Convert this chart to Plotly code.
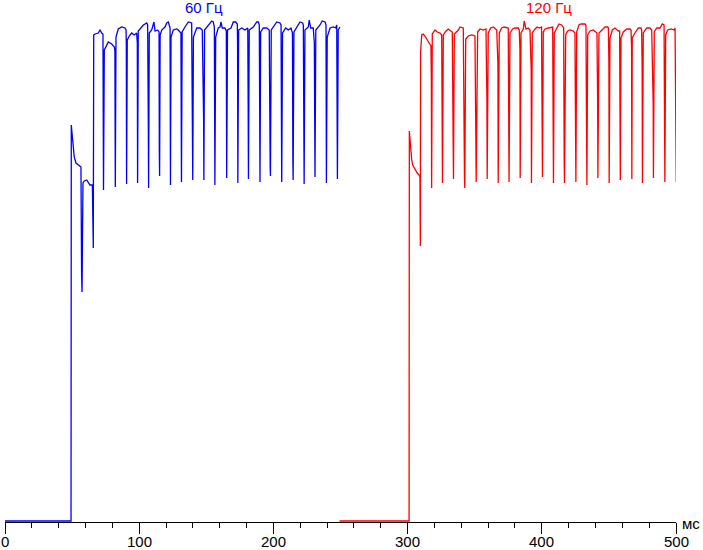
import plotly.graph_objects as go

# ---- data (time in ms, brightness in arbitrary units) ----
blue_t = [0, 49.2, 49.4, 50.1, 50.9, 51.6, 52.9, 54.6, 56.6, 57.1, 57.4, 58.1, 59.1, 60.9, 62.1, 63.3, 65.1,
          65.5, 65.8, 66.1, 67.1, 69.5, 70.8, 72.1, 73.0,
          73.2, 73.4, 74.0, 75.8, 77.0, 79.5, 81.5, 81.9,
          82.2, 82.7, 84.4, 87.0, 89.4, 90.2,
          90.4, 90.6, 91.1, 92.6, 94.4, 96.3, 98.1,
          98.6, 98.8, 99.3, 101.1, 103.1, 105.6, 106.3,
          106.8, 107.0, 107.5, 109.3, 111.0, 111.8, 113.8, 114.8,
          115.0, 115.2, 115.6, 116.8, 119.2, 120.5, 121.7, 123.0,
          123.3, 123.7, 125.4, 127.9, 129.1, 131.1,
          131.5, 132.0, 134.1, 136.6, 139.1,
          139.7, 139.9, 140.4, 142.9, 145.3, 147.0,
          148.0, 148.2, 148.7, 151.5, 154.0, 155.2, 156.0,
          156.4, 157.0, 158.9, 160.2, 160.9, 161.9, 163.9, 164.9,
          165.2, 165.8, 168.4, 170.1, 171.9, 173.1,
          173.3, 173.5, 174.1, 176.4, 178.8, 180.9,
          181.2, 181.4, 182.0, 185.0, 187.6, 188.8, 189.5,
          189.8, 190.0, 190.5, 192.5, 195.0, 196.9,
          197.6, 197.8, 198.4, 200.7, 202.5, 204.9, 205.7,
          206.2, 206.8, 209.2, 211.1, 213.1, 214.2,
          214.5, 214.7, 215.3, 217.3, 219.8, 221.8, 222.3,
          222.7, 222.9, 223.5, 226.0, 226.7, 227.8, 229.7, 230.5,
          231.0, 231.6, 234.7, 236.4, 238.5, 239.2,
          239.5, 240.1, 242.2, 244.6, 246.4, 247.2,
          247.7, 248.3, 249.6]
blue_v = [0, 0, 396, 385, 374, 364, 358, 356, 354, 244, 229, 338, 340, 341, 338, 336, 336,
          279, 273, 486, 487, 488, 491, 488, 487,
          408, 331, 471, 477, 479, 477, 474, 470,
          334, 484, 492, 494, 493, 491,
          476, 337, 481, 485, 488, 486, 488,
          478, 338, 490, 493, 496, 498, 496,
          396, 333, 488, 491, 499, 490, 491, 489,
          369, 345, 486, 491, 494, 498, 499, 493,
          336, 484, 491, 492, 491, 488,
          339, 489, 494, 499, 498,
          369, 341, 484, 493, 493, 491,
          403, 341, 491, 496, 500, 499, 494,
          336, 484, 493, 494, 499, 493, 493, 490,
          343, 491, 493, 499, 499, 497,
          478, 338, 491, 493, 491, 493,
          418, 342, 491, 494, 499, 499, 496,
          374, 339, 489, 493, 493, 491,
          354, 345, 491, 496, 499, 498, 496,
          339, 488, 493, 491, 493, 488,
          361, 341, 489, 494, 499, 498, 496,
          393, 337, 491, 494, 501, 493, 493, 478,
          344, 491, 496, 500, 499, 496,
          338, 484, 493, 494, 493, 496,
          342, 491, 494]

red_t = [249.3, 301.1, 301.3, 301.8, 302.3, 303.0, 303.8, 305.4, 307.2, 308.6, 309.2,
         309.5, 309.7, 310.5, 311.7, 312.9, 314.2, 315.4, 316.7, 317.4,
         317.7, 317.9, 318.4, 320.4, 322.1, 324.1, 325.4,
         325.8, 326.0, 326.6, 328.6, 330.3, 331.6, 333.3,
         334.0, 334.2, 334.8, 336.6, 337.8, 339.0, 341.5,
         342.4, 342.6, 343.3, 345.2, 347.8, 350.2,
         350.9, 351.1, 352.2, 354.0, 356.4, 358.4,
         359.1, 359.3, 360.1, 361.9, 363.9, 365.1, 366.4,
         367.3, 367.5, 368.3, 370.1, 371.8, 373.8, 375.0,
         375.6, 376.3, 378.3, 380.0, 382.5, 383.2,
         383.7, 383.9, 384.5, 386.2, 386.9, 388.2, 389.9, 391.2,
         392.1, 392.3, 392.9, 394.9, 396.6, 398.1, 399.8,
         400.3, 400.5, 401.1, 402.4, 404.9, 406.9, 408.1,
         408.5, 408.7, 409.3, 411.1, 412.8, 414.8, 416.3,
         416.7, 416.9, 417.8, 419.3, 421.0, 423.5, 424.7,
         425.2, 425.4, 426.0, 427.7, 429.2, 432.2, 432.9,
         433.4, 433.6, 434.2, 435.9, 438.4, 440.4, 441.1,
         441.6, 441.8, 442.6, 444.6, 447.1, 449.1, 449.6,
         450.0, 450.2, 450.8, 452.5, 454.5, 457.0, 458.0,
         458.5, 459.0, 460.7, 463.3, 465.7, 466.5,
         466.9, 467.1, 467.4, 469.4, 471.9, 473.9, 474.4,
         474.8, 475.0, 475.6, 478.2, 480.6, 481.9,
         483.0, 483.2, 483.8, 485.6, 488.1, 489.8, 491.1,
         491.5, 491.7, 492.3, 493.8, 496.3, 498.7, 499.3,
         499.8, 500.2]
red_v = [0, 0, 390, 378, 370, 362, 356, 352, 348, 346, 344,
         275, 469, 486, 487, 485, 482, 479, 477, 475,
         441, 333, 487, 491, 489, 488, 486,
         406, 338, 486, 490, 492, 491, 489,
         371, 342, 487, 489, 491, 494, 493,
         343, 333, 482, 485, 486, 485,
         376, 339, 489, 492, 491, 492,
         421, 342, 488, 493, 494, 492, 491,
         458, 338, 488, 493, 494, 493, 493,
         339, 488, 492, 493, 493, 491,
         473, 343, 488, 492, 500, 492, 493, 491,
         451, 338, 488, 492, 494, 493, 494,
         418, 344, 489, 492, 493, 494, 494,
         389, 338, 488, 493, 497, 496, 493,
         359, 338, 486, 490, 491, 490, 488,
         356, 339, 489, 496, 497, 497, 496,
         384, 336, 486, 490, 491, 489, 488,
         423, 343, 488, 491, 494, 494, 493,
         459, 338, 483, 491, 493, 490, 490,
         341, 483, 489, 492, 492, 491,
         473, 342, 483, 488, 493, 493, 491,
         449, 338, 488, 493, 493, 491,
         418, 343, 489, 493, 493, 497, 496,
         376, 339, 486, 491, 492, 491, 493,
         349, 339]

x_ticks = [0, 100, 200, 300, 400, 500]
x_tick_labels = ["0", "100", "200", "300", "400", "500"]
label_60 = "60 Гц"
label_120 = "120 Гц"
unit_label = "мс"

FONT = "Liberation Sans, Arial, sans-serif"

fig = go.Figure()
fig.add_trace(go.Scatter(x=blue_t, y=blue_v, mode="lines",
                         line=dict(color="#0000ff", width=1.3), hoverinfo="skip"))
fig.add_trace(go.Scatter(x=red_t, y=red_v, mode="lines",
                         line=dict(color="#ff0000", width=1.3), hoverinfo="skip"))

annotations = [
    dict(x=148.3, y=1.0049, xref="x", yref="paper", text=label_60, showarrow=False,
         xanchor="center", yanchor="middle", font=dict(family=FONT, size=15, color="#0000ff")),
    dict(x=405.4, y=1.0049, xref="x", yref="paper", text=label_120, showarrow=False,
         xanchor="center", yanchor="middle", font=dict(family=FONT, size=15, color="#ff0000")),
    dict(x=1.022, y=-0.002, xref="paper", yref="paper", text=unit_label, showarrow=False,
         xanchor="center", yanchor="middle", font=dict(family=FONT, size=15, color="black")),
]
for xv, lab in zip(x_ticks, x_tick_labels):
    annotations.append(dict(x=xv, y=-0.039, xref="x", yref="paper", text=lab, showarrow=False,
                            xanchor="center", yanchor="middle",
                            font=dict(family=FONT, size=15, color="black")))

fig.update_layout(
    width=703, height=550,
    margin=dict(l=5, r=27, t=10, b=28, autoexpand=False),
    paper_bgcolor="white", plot_bgcolor="white",
    showlegend=False,
    font=dict(family=FONT, size=15, color="black"),
    xaxis=dict(range=[0, 500], tickvals=x_ticks, ticks="outside", ticklen=11,
               showticklabels=False,
               tickwidth=1, tickcolor="black", showline=True, linecolor="black",
               linewidth=1, showgrid=False, zeroline=False, automargin=False,
               minor=dict(dtick=20, tick0=0, ticks="outside", ticklen=5,
                          tickwidth=1, tickcolor="black", showgrid=False)),
    yaxis=dict(range=[-1, 511], visible=False, showgrid=False, zeroline=False,
               automargin=False),
    annotations=annotations,
)

fig.write_html("out.html", config={"displayModeBar": False},
               post_script="document.body.style.margin='0';document.body.style.overflow='hidden';")
